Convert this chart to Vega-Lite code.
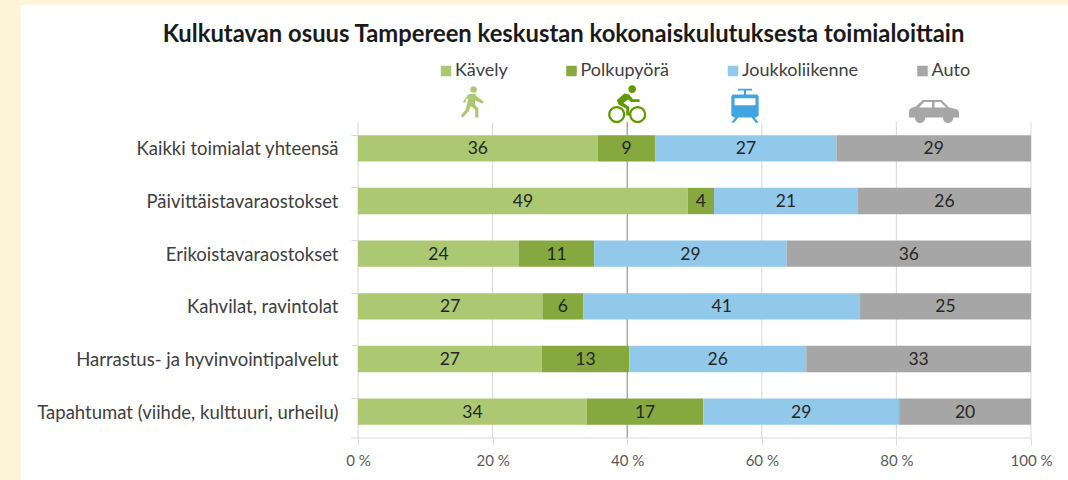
{
"$schema":"https://vega.github.io/schema/vega-lite/v6.json",
"width":673,"height":316,
"autosize":{"type":"none"},
"padding":{"left":358,"right":37,"top":122,"bottom":42},
"background":"#FDF4D9",
"view":{"stroke":null},
"title":{"text":"Kulkutavan osuus Tampereen keskustan kokonaiskulutuksesta toimialoittain","font":"Lato","fontSize":23.8,"fontWeight":"bold","color":"#1a1a1a","anchor":"middle","frame":"group","dx":-131,"offset":-66,"baseline":"bottom"},
"config":{"font":"Lato"},
"datasets":{
"rows":[
{"cat":"Kaikki toimialat yhteensä","mode":"Kävely","ord":1,"v":35.6},
{"cat":"Kaikki toimialat yhteensä","mode":"Polkupyörä","ord":2,"v":8.6},
{"cat":"Kaikki toimialat yhteensä","mode":"Joukkoliikenne","ord":3,"v":26.9},
{"cat":"Kaikki toimialat yhteensä","mode":"Auto","ord":4,"v":28.9},
{"cat":"Päivittäistavaraostokset","mode":"Kävely","ord":1,"v":49.0},
{"cat":"Päivittäistavaraostokset","mode":"Polkupyörä","ord":2,"v":3.9},
{"cat":"Päivittäistavaraostokset","mode":"Joukkoliikenne","ord":3,"v":21.4},
{"cat":"Päivittäistavaraostokset","mode":"Auto","ord":4,"v":25.7},
{"cat":"Erikoistavaraostokset","mode":"Kävely","ord":1,"v":23.9},
{"cat":"Erikoistavaraostokset","mode":"Polkupyörä","ord":2,"v":11.2},
{"cat":"Erikoistavaraostokset","mode":"Joukkoliikenne","ord":3,"v":28.6},
{"cat":"Erikoistavaraostokset","mode":"Auto","ord":4,"v":36.3},
{"cat":"Kahvilat, ravintolat","mode":"Kävely","ord":1,"v":27.4},
{"cat":"Kahvilat, ravintolat","mode":"Polkupyörä","ord":2,"v":6.1},
{"cat":"Kahvilat, ravintolat","mode":"Joukkoliikenne","ord":3,"v":41.1},
{"cat":"Kahvilat, ravintolat","mode":"Auto","ord":4,"v":25.4},
{"cat":"Harrastus- ja hyvinvointipalvelut","mode":"Kävely","ord":1,"v":27.3},
{"cat":"Harrastus- ja hyvinvointipalvelut","mode":"Polkupyörä","ord":2,"v":13.0},
{"cat":"Harrastus- ja hyvinvointipalvelut","mode":"Joukkoliikenne","ord":3,"v":26.3},
{"cat":"Harrastus- ja hyvinvointipalvelut","mode":"Auto","ord":4,"v":33.4},
{"cat":"Tapahtumat (viihde, kulttuuri, urheilu)","mode":"Kävely","ord":1,"v":34.0},
{"cat":"Tapahtumat (viihde, kulttuuri, urheilu)","mode":"Polkupyörä","ord":2,"v":17.3},
{"cat":"Tapahtumat (viihde, kulttuuri, urheilu)","mode":"Joukkoliikenne","ord":3,"v":29.1},
{"cat":"Tapahtumat (viihde, kulttuuri, urheilu)","mode":"Auto","ord":4,"v":19.6}
]
},
"resolve":{"scale":{"y":"independent"},"axis":{"y":"independent"}},
"layer":[
{"data":{"values":[{"x0":-50.07,"x1":105.5,"y0":-13.3,"y1":137}]},
 "mark":{"type":"rect","color":"#ffffff","clip":false},
 "encoding":{
  "x":{"field":"x0","type":"quantitative","scale":{"domain":[0,100],"nice":false},"axis":{"values":[0,20,40,60,80,100],"labelExpr":"datum.value + ' %'","title":null,"grid":false,"domain":false,"ticks":true,"tickColor":"#d9d9d9","tickSize":7,"labelFontSize":15,"labelColor":"#595959","labelPadding":8,"labelFont":"Lato","zindex":1,"labelOverlap":false,"labelBound":false,"labelFlush":false}},
  "x2":{"field":"x1"},
  "y":{"field":"y0","type":"quantitative","scale":{"domain":[0,100],"nice":false,"zero":false},"axis":null},
  "y2":{"field":"y1"}
 }},
{"data":{"values":[{"pct":0},{"pct":20},{"pct":40},{"pct":60},{"pct":80},{"pct":100}]},
 "mark":{"type":"rule","strokeWidth":1},
 "encoding":{
  "x":{"field":"pct","type":"quantitative"},
  "color":{"condition":{"test":"datum.pct === 40","value":"#7f7f7f"},"value":"#d9d9d9"}
 }},
{"data":{"values":[{"start":-1.04,"end":100,"level":0}]},
 "mark":{"type":"rule","color":"#d9d9d9","strokeWidth":1,"clip":false},
 "encoding":{
  "x":{"field":"start","type":"quantitative"},
  "x2":{"field":"end"},
  "y":{"field":"level","type":"quantitative","scale":{"domain":[0,100],"nice":false,"zero":false},"axis":null}
 }},
{"data":{"name":"rows"},
 "mark":{"type":"bar"},
 "encoding":{
  "x":{"field":"v","type":"quantitative","stack":"zero"},
  "y":{"field":"cat","type":"nominal","sort":null,"scale":{"paddingInner":0.5,"paddingOuter":0.25},
   "axis":{"title":null,"domain":false,"grid":false,"ticks":true,"tickColor":"#d9d9d9","tickSize":7,"bandPosition":0,"labelFontSize":18.5,"labelColor":"#404040","labelPadding":13,"labelLimit":400,"labelFont":"Lato","labelOffset":1,"zindex":1}},
  "color":{"field":"mode","type":"nominal","sort":null,
   "scale":{"domain":["Kävely","Polkupyörä","Joukkoliikenne","Auto"],"range":["#ACC872","#86A83F","#92C9EB","#A6A6A6"]},
   "legend":{"orient":"none","legendX":79,"legendY":-60,"direction":"horizontal","columns":4,"title":null,"symbolType":"square","symbolSize":110,"symbolStrokeWidth":0,"labelFontSize":18,"labelColor":"#404040","labelOffset":0,"columnPadding":54.5,"padding":0,"labelFont":"Lato"}},
  "order":{"field":"ord","type":"ordinal"}
 }},
{"data":{"name":"rows"},
 "mark":{"type":"text","fontSize":17.5,"color":"#262626","font":"Lato","dy":1},
 "encoding":{
  "x":{"field":"v","type":"quantitative","stack":"zero","bandPosition":0.5},
  "y":{"field":"cat","type":"nominal","sort":null,"scale":{"paddingInner":0.5,"paddingOuter":0.25},"axis":null},
  "text":{"field":"v","type":"quantitative","format":".0f"},
  "detail":{"field":"mode"},
  "order":{"field":"ord","type":"ordinal"}
 }},
{"data":{"values":[{"mode":"Kävely","px":17.1,"py":106.2}]},
 "mark":{"type":"point","filled":true,"clip":false,"size":1250,"opacity":1,"color":"#ACC872",
  "shape":"M-0.16,-0.73 a0.19,0.19 0 1,1 0.38,0 a0.19,0.19 0 1,1 -0.38,0 Z M-0.28,-0.45 L0.1,-0.5 L0.25,-0.3 L0.6,-0.05 L0.52,0.07 L0.12,-0.12 L0.1,0.12 L0.3,0.35 L0.3,0.85 L0.12,0.85 L0.12,0.42 L-0.12,0.2 L-0.25,0.5 L-0.58,0.85 L-0.7,0.75 L-0.42,0.42 L-0.27,-0.2 L-0.38,-0.22 L-0.45,0.02 L-0.58,-0.03 Z"},
 "encoding":{
  "x":{"field":"px","type":"quantitative"},
  "y":{"field":"py","type":"quantitative","scale":{"domain":[0,100],"nice":false,"zero":false},"axis":null}
 }},
{"data":{"values":[{"mode":"Polkupyörä","px":40.0,"py":105.4}]},
 "mark":{"type":"point","filled":true,"clip":false,"size":1450,"opacity":1,"color":"#5F9A00",
  "shape":"M-1,0.5 a0.45,0.45 0 1,1 0.9,0 a0.45,0.45 0 1,1 -0.9,0 Z M-0.88,0.5 a0.33,0.33 0 1,0 0.66,0 a0.33,0.33 0 1,0 -0.66,0 Z M0.1,0.5 a0.45,0.45 0 1,1 0.9,0 a0.45,0.45 0 1,1 -0.9,0 Z M0.22,0.5 a0.33,0.33 0 1,0 0.66,0 a0.33,0.33 0 1,0 -0.66,0 Z M0.06,-0.83 a0.2,0.2 0 1,1 0.4,0 a0.2,0.2 0 1,1 -0.4,0 Z M-0.55,-0.25 L-0.15,-0.6 L0.1,-0.55 L0.3,-0.3 L0.65,-0.3 L0.65,-0.15 L0.2,-0.15 L0.05,-0.3 L-0.2,-0.1 L0.1,0.1 L0.1,0.55 L-0.05,0.55 L-0.05,0.2 L-0.45,-0.02 Z"},
 "encoding":{
  "x":{"field":"px","type":"quantitative"},
  "y":{"field":"py","type":"quantitative","scale":{"domain":[0,100],"nice":false,"zero":false},"axis":null}
 }},
{"data":{"values":[{"mode":"Joukkoliikenne","px":57.5,"py":105.3}]},
 "mark":{"type":"point","filled":true,"clip":false,"size":1225,"opacity":1,"color":"#41A5E1",
  "shape":"M-0.4,-0.95 L0.4,-0.95 L0.4,-0.85 L0.06,-0.85 L0.06,-0.6 L-0.06,-0.6 L-0.06,-0.85 L-0.4,-0.85 Z M-0.7,-0.62 L0.7,-0.62 L0.78,-0.5 L0.78,0.6 L0.62,0.7 L-0.62,0.7 L-0.78,0.6 L-0.78,-0.5 Z M-0.6,-0.4 L-0.6,0 L0.6,0 L0.6,-0.4 Z M-0.55,0.7 L-0.38,0.7 L-0.62,1 L-0.78,1 Z M0.38,0.7 L0.55,0.7 L0.78,1 L0.62,1 Z"},
 "encoding":{
  "x":{"field":"px","type":"quantitative"},
  "y":{"field":"py","type":"quantitative","scale":{"domain":[0,100],"nice":false,"zero":false},"axis":null}
 }},
{"data":{"values":[{"mode":"Auto","px":85.6,"py":103.6}]},
 "mark":{"type":"point","filled":true,"clip":false,"size":2500,"opacity":1,"color":"#A6A6A6",
  "shape":"M-1,0.28 L-1,0 Q-0.95,-0.12 -0.75,-0.15 L-0.45,-0.42 L0.3,-0.42 L0.6,-0.12 L0.9,-0.05 Q1,0 1,0.15 L1,0.28 Z M-0.6,-0.12 L-0.08,-0.12 L-0.08,-0.34 L-0.4,-0.34 Z M0.02,-0.12 L0.48,-0.12 L0.26,-0.34 L0.02,-0.34 Z M-0.76,0.3 a0.2,0.2 0 1,1 0.4,0 a0.2,0.2 0 1,1 -0.4,0 Z M0.36,0.3 a0.2,0.2 0 1,1 0.4,0 a0.2,0.2 0 1,1 -0.4,0 Z"},
 "encoding":{
  "x":{"field":"px","type":"quantitative"},
  "y":{"field":"py","type":"quantitative","scale":{"domain":[0,100],"nice":false,"zero":false},"axis":null}
 }}
]
}
